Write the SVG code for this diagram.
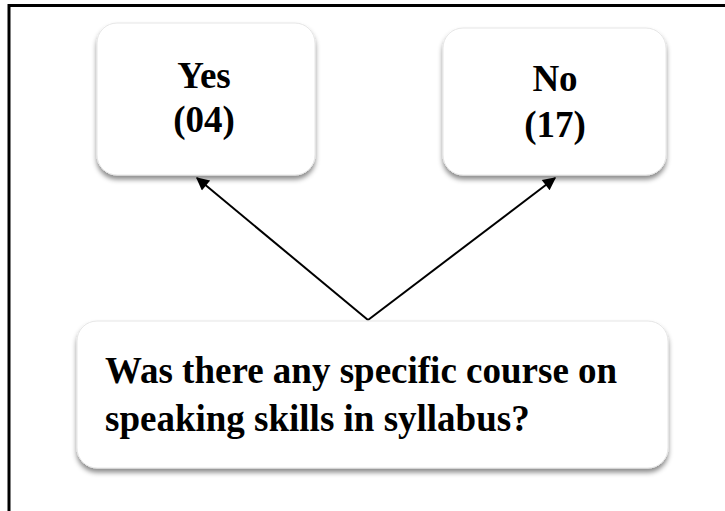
<svg xmlns="http://www.w3.org/2000/svg" width="725" height="511" viewBox="0 0 725 511">
<style>
.box{fill:#fff;stroke:#e6e6e6;stroke-width:1;filter:url(#sh)}
.t{font-family:"Liberation Serif","Times New Roman",serif;font-weight:bold;fill:#000}
.c{stroke:#000;stroke-width:2;fill:none;marker-end:url(#ah)}
</style>
<defs>
<filter id="sh" x="-10%" y="-10%" width="120%" height="130%">
<feDropShadow dx="0" dy="4" stdDeviation="2.5" flood-color="#000" flood-opacity="0.45"/>
</filter>
<marker id="ah" viewBox="0 0 10 10" refX="9" refY="5" markerWidth="15" markerHeight="13" markerUnits="userSpaceOnUse" orient="auto">
<path d="M0,0 L10,5 L0,10 Z" fill="#000"/>
</marker>
</defs>
<rect width="725" height="511" fill="#fff"/>
<path d="M9,511 V5.5 H725" stroke="#000" stroke-width="3" fill="none"/>
<g id="connectors">
<line class="c" x1="368" y1="320" x2="197" y2="178"/>
<line class="c" x1="368" y1="320" x2="555" y2="178"/>
</g>
<g id="yes">
<rect class="box" x="97" y="23" width="218" height="152" rx="20"/>
<text class="t" x="204" y="88" font-size="37" text-anchor="middle">Yes</text>
<text class="t" x="204" y="132" font-size="37" text-anchor="middle">(04)</text>
</g>
<g id="no">
<rect class="box" x="443" y="28" width="223" height="147" rx="20"/>
<text class="t" x="555" y="91" font-size="37" text-anchor="middle">No</text>
<text class="t" x="555" y="137" font-size="37" text-anchor="middle">(17)</text>
</g>
<g id="question">
<rect class="box" x="77" y="321" width="591" height="147" rx="20"/>
<text class="t" x="105" y="383" font-size="37">Was there any specific course on</text>
<text class="t" x="105" y="431" font-size="37">speaking skills in syllabus?</text>
</g>
</svg>
